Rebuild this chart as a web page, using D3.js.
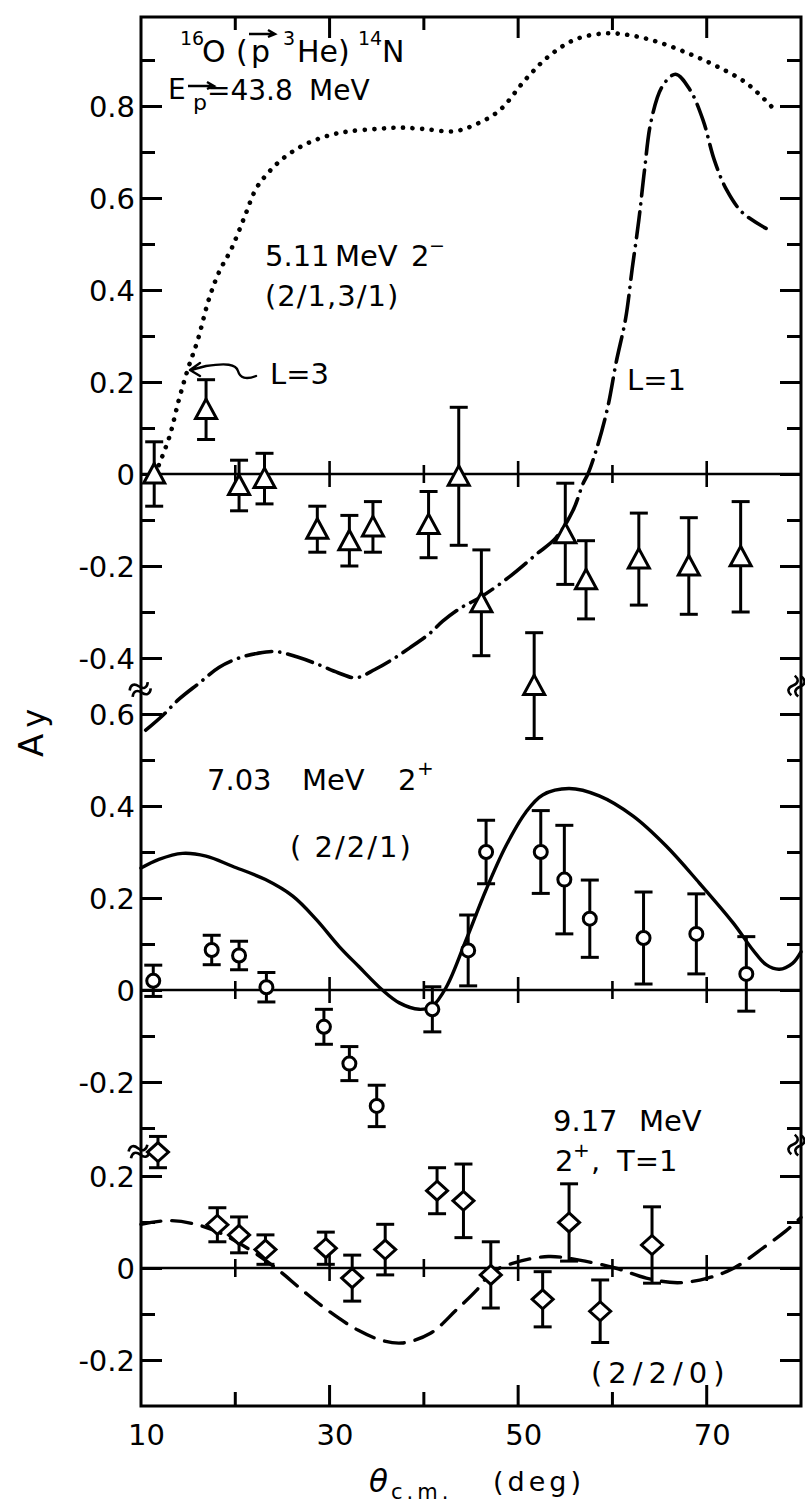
<!DOCTYPE html>
<html><head><meta charset="utf-8">
<script src="https://cdn.jsdelivr.net/npm/d3@7"></script>
<style>
body{margin:0;background:#fff}
svg{display:block}
text{font-family:"DejaVu Sans",sans-serif;fill:#000}
</style>
</head><body>
<script>
// ---------- data (theta c.m. in deg, Ay) ----------
// 5.11 MeV 2- : data [theta, Ay, error]
const pts511 = [
  [11.4, 0.0, 0.07], [16.9, 0.14, 0.065], [20.4, -0.025, 0.055], [23.1, -0.01, 0.055],
  [28.7, -0.12, 0.05], [32.1, -0.145, 0.055], [34.6, -0.115, 0.055], [40.5, -0.11, 0.072],
  [43.7, -0.005, 0.15], [46.1, -0.28, 0.115], [51.7, -0.46, 0.115], [55.0, -0.13, 0.11],
  [57.2, -0.23, 0.085], [62.8, -0.185, 0.1], [68.1, -0.2, 0.105], [73.6, -0.18, 0.12]
];
// L=3 curve (dotted)
const curveL3 = [
  [11.5, 0.0], [13, 0.08], [14, 0.16], [15, 0.23], [16, 0.29], [17.2, 0.38], [18.3, 0.44],
  [19.6, 0.49], [21, 0.56], [22.2, 0.62], [23.5, 0.655], [25, 0.685], [26.8, 0.71],
  [28.6, 0.727], [30.3, 0.738], [32.1, 0.745], [35, 0.75], [37.4, 0.753], [40, 0.75],
  [43.2, 0.745], [45.5, 0.76], [48, 0.79], [50.8, 0.858], [53.3, 0.909], [56.1, 0.945],
  [59.3, 0.958], [62.1, 0.953], [65, 0.938], [68.2, 0.913], [71, 0.887], [74.2, 0.85], [77, 0.796]
];
// L=1 curve (dash-dot)
const curveL1 = [
  [10.5, -0.557], [12.3, -0.525], [14, -0.49], [16.2, -0.454], [18.3, -0.42], [20.4, -0.4],
  [22.3, -0.39], [24.3, -0.386], [26.6, -0.398], [28.9, -0.415], [30.9, -0.432], [32.8, -0.443],
  [34.8, -0.425], [36.6, -0.404], [38.5, -0.378], [40.6, -0.347], [42, -0.32], [44, -0.29],
  [46, -0.268], [49.1, -0.223], [51.9, -0.175], [54, -0.139], [55.8, -0.08], [56.9, -0.02],
  [57.4, 0.0], [58.4, 0.06], [59.5, 0.145], [60.4, 0.243], [61.4, 0.338], [62.1, 0.447],
  [62.8, 0.552], [63.4, 0.66], [64.1, 0.767], [65.3, 0.843], [66.7, 0.869], [68.2, 0.836],
  [69.6, 0.77], [70.8, 0.683], [72.1, 0.618], [73.8, 0.568], [76.3, 0.534]
];
// 7.03 MeV 2+
const pts703 = [
  [11.3, 0.02, 0.034], [17.5, 0.087, 0.032], [20.4, 0.075, 0.031], [23.3, 0.006, 0.032],
  [29.4, -0.08, 0.038], [32.1, -0.16, 0.037], [35.0, -0.252, 0.045], [40.9, -0.042, 0.049],
  [44.7, 0.086, 0.077], [46.6, 0.3, 0.069], [52.4, 0.3, 0.09], [54.9, 0.24, 0.118],
  [57.6, 0.155, 0.084], [63.3, 0.113, 0.1], [68.9, 0.122, 0.087], [74.2, 0.035, 0.081]
];
const curve703 = [
  [10, 0.265], [11.9, 0.284], [14.4, 0.297], [16.9, 0.291], [19.7, 0.269], [23.2, 0.24],
  [26.1, 0.204], [28.6, 0.153], [31, 0.095], [33.1, 0.051], [35.6, 0.0], [37.4, -0.028],
  [39.5, -0.042], [40.9, -0.035], [42.4, 0.007], [44.5, 0.11], [46.6, 0.218], [48.7, 0.313],
  [50.8, 0.386], [52.6, 0.424], [55.4, 0.438], [58.6, 0.422], [62.2, 0.378], [65.7, 0.313],
  [69.2, 0.233], [72.8, 0.146], [74.9, 0.087], [76.3, 0.055], [77.7, 0.045], [79.1, 0.058], [80, 0.083]
];
// 9.17 MeV 2+, T=1
const pts917 = [
  [11.8, 0.252, 0.034], [18.1, 0.094, 0.037], [20.4, 0.072, 0.039], [23.2, 0.04, 0.032],
  [29.6, 0.043, 0.035], [32.4, -0.022, 0.05], [35.9, 0.04, 0.055], [41.4, 0.168, 0.05],
  [44.2, 0.146, 0.08], [47.1, -0.015, 0.072], [52.6, -0.068, 0.06], [55.4, 0.099, 0.084],
  [58.7, -0.094, 0.068], [64.2, 0.05, 0.083]
];
const curve917 = [
  [10, 0.095], [12.9, 0.103], [15.6, 0.096], [18.4, 0.076], [21.6, 0.039], [24.3, 0.0],
  [27.1, -0.048], [29.8, -0.092], [33, -0.135], [35.5, -0.157], [37.7, -0.163], [40.7, -0.142],
  [43.4, -0.092], [45.6, -0.048], [47.2, -0.01], [49.4, 0.01], [53.2, 0.025], [56.5, 0.017],
  [60.3, 0.0], [63.6, -0.022], [66.9, -0.032], [70.1, -0.022], [72.9, 0.0], [76.2, 0.047],
  [78.3, 0.079], [80, 0.11]
];
// ticks
const xTicks = [20, 30, 40, 50, 60, 70];
const xTickLabels = [10, 30, 50, 70];
const topTicks = [-0.4, -0.3, -0.2, -0.1, 0, 0.1, 0.2, 0.3, 0.4, 0.5, 0.6, 0.7, 0.8, 0.9];
const topLabels = [-0.4, -0.2, 0, 0.2, 0.4, 0.6, 0.8];
const midTicks = [-0.3, -0.2, -0.1, 0, 0.1, 0.2, 0.3, 0.4, 0.5, 0.6];
const midLabels = [-0.2, 0, 0.2, 0.4, 0.6];
const botTicks = [-0.2, -0.1, 0, 0.1, 0.2];
const botLabels = [-0.2, 0, 0.2];

// ---------- layout ----------
const W = 805, H = 1508;
const L = 141, R = 801, T = 17, B = 1406;
const svg = d3.select("body").append("svg").attr("width", W).attr("height", H);
svg.append("rect").attr("width", W).attr("height", H).attr("fill", "#fff");

const x = d3.scaleLinear().domain([10, 80]).range([L, R]);
const yTop = d3.scaleLinear().domain([-0.5, 1.0]).range([704, 14]);
const yMid = d3.scaleLinear().domain([-0.34, 0.63]).range([1146.4, 700.2]);
const yBot = d3.scaleLinear().domain([-0.3, 0.26]).range([B, 1148.4]);

const fmt = v => (Math.abs(v) < 1e-9 ? "0" : String(+v.toFixed(1)));
const isLab = (arr, v) => arr.some(a => Math.abs(a - v) < 1e-9);

// frame
svg.append("rect").attr("x", L).attr("y", T).attr("width", R - L).attr("height", B - T)
  .attr("fill", "none").attr("stroke", "#000").attr("stroke-width", 3);

// y axes per panel (left & right), using d3 axes
function yAxes(y, ticks, labels) {
  const minor = ticks.filter(v => !isLab(labels, v));
  const major = ticks.filter(v => isLab(labels, v));
  const gl = svg.append("g").attr("transform", `translate(${L},0)`);
  gl.call(d3.axisLeft(y).tickValues(major).tickSize(-21).tickPadding(6).tickFormat(fmt));
  gl.append("g").call(d3.axisLeft(y).tickValues(minor).tickSize(-14).tickFormat(""));
  const gr = svg.append("g").attr("transform", `translate(${R},0)`);
  gr.call(d3.axisRight(y).tickValues(major).tickSize(-21).tickFormat(""));
  gr.append("g").call(d3.axisRight(y).tickValues(minor).tickSize(-14).tickFormat(""));
  [gl, gr].forEach(g => {
    g.selectAll(".domain").remove();
    g.selectAll("line").attr("stroke", "#000").attr("stroke-width", 3);
  });
  gl.selectAll("text").attr("font-size", 29).attr("font-family", '"DejaVu Sans",sans-serif')
    .attr("fill", "#000").attr("dy", "0.36em");
}
yAxes(yTop, topTicks, topLabels);
yAxes(yMid, midTicks, midLabels);
yAxes(yBot, botTicks, botLabels);

// zero lines with crossing ticks
[yTop, yMid, yBot].forEach(y => {
  const y0 = y(0);
  svg.append("line").attr("x1", L).attr("x2", R).attr("y1", y0).attr("y2", y0)
    .attr("stroke", "#000").attr("stroke-width", 2.6);
  svg.append("g").selectAll("line").data(xTicks).join("line")
    .attr("x1", d => x(d)).attr("x2", d => x(d))
    .attr("y1", d => y0 - (isLab(xTickLabels, d) ? 13 : 9))
    .attr("y2", d => y0 + (isLab(xTickLabels, d) ? 13 : 9))
    .attr("stroke", "#000").attr("stroke-width", 2.6);
});

// top & bottom frame ticks
svg.append("g").selectAll("line").data(xTicks).join("line")
  .attr("x1", d => x(d)).attr("x2", d => x(d))
  .attr("y1", T).attr("y2", d => T + (isLab(xTickLabels, d) ? 21 : 13))
  .attr("stroke", "#000").attr("stroke-width", 3);
const gx = svg.append("g").attr("transform", `translate(0,${B})`);
gx.call(d3.axisBottom(x).tickValues(xTickLabels).tickSize(0).tickPadding(18).tickFormat(d3.format("d")));
gx.select(".domain").remove();
gx.selectAll("text").attr("font-size", 29).attr("font-family", '"DejaVu Sans",sans-serif')
  .attr("fill", "#000").attr("dx", 5);
svg.append("g").selectAll("line").data(xTicks).join("line")
  .attr("x1", d => x(d)).attr("x2", d => x(d))
  .attr("y1", B).attr("y2", d => B - (isLab(xTickLabels, d) ? 21 : 14))
  .attr("stroke", "#000").attr("stroke-width", 3);

// break marks
function brk(cx, cy, rot) {
  svg.append("path")
    .attr("d", "M-10,-3 c3,-5 7,-5 10,0 s7,5 10,0 M-10,4 c3,-5 7,-5 10,0 s7,5 10,0")
    .attr("transform", `translate(${cx},${cy}) rotate(${rot})`)
    .attr("fill", "none").attr("stroke", "#000").attr("stroke-width", 2.6);
}
brk(L - 1, 689, -25); brk(L - 2, 1151, -20);
brk(R - 5, 686, -80); brk(R - 5, 1145, -80);

// curves
function curve(data, y, dash, w) {
  svg.append("path").datum(data)
    .attr("d", d3.line().x(d => x(d[0])).y(d => y(d[1])).curve(d3.curveCatmullRom.alpha(0.5)))
    .attr("fill", "none").attr("stroke", "#000").attr("stroke-width", w)
    .attr("stroke-linecap", "round").attr("stroke-dasharray", dash);
}
curve(curveL3, yTop, "0.1 9.5", 4.6);
curve(curveL1, yTop, "26 8 0.1 8", 3.6);
curve(curve703, yMid, null, 3.4);
curve(curve917, yBot, "20 11", 3.4);

// points with error bars
const shapes = {
  tri: "M0,-10.5 L10.5,9 L-10.5,9 Z",
  dia: "M0,-9.5 L10.5,0 L0,9.5 L-10.5,0 Z"
};
function points(data, y, shape) {
  const g = svg.append("g").attr("stroke", "#000").attr("stroke-width", 3);
  g.selectAll("line.bar").data(data).join("line").attr("class", "bar")
    .attr("x1", d => x(d[0])).attr("x2", d => x(d[0]))
    .attr("y1", d => y(d[1] + d[2])).attr("y2", d => y(d[1] - d[2]));
  g.selectAll("line.capT").data(data).join("line").attr("class", "capT")
    .attr("x1", d => x(d[0]) - 9).attr("x2", d => x(d[0]) + 9)
    .attr("y1", d => y(d[1] + d[2])).attr("y2", d => y(d[1] + d[2]));
  g.selectAll("line.capB").data(data).join("line").attr("class", "capB")
    .attr("x1", d => x(d[0]) - 9).attr("x2", d => x(d[0]) + 9)
    .attr("y1", d => y(d[1] - d[2])).attr("y2", d => y(d[1] - d[2]));
  if (shape === "circle") {
    g.selectAll("circle").data(data).join("circle")
      .attr("cx", d => x(d[0])).attr("cy", d => y(d[1])).attr("r", 6.5).attr("fill", "#fff");
  } else {
    g.selectAll("path").data(data).join("path")
      .attr("d", shapes[shape]).attr("transform", d => `translate(${x(d[0])},${y(d[1])})`)
      .attr("fill", "#fff").attr("stroke-linejoin", "miter");
  }
}
points(pts511, yTop, "tri");
points(pts703, yMid, "circle");
points(pts917, yBot, "dia");

// ---------- text ----------
function txt(xp, yp, s, fs, extra) {
  const t = svg.append("text").attr("x", xp).attr("y", yp).attr("font-size", fs).text(s);
  if (extra) extra(t);
  return t;
}
function vecArrow(x1, x2, yy) {
  svg.append("path").attr("d", `M${x1},${yy} L${x2},${yy} M${x2 - 7},${yy - 4} L${x2},${yy} L${x2 - 7},${yy + 3}`)
    .attr("fill", "none").attr("stroke", "#000").attr("stroke-width", 2.4);
}
// title
txt(180, 45, "16", 19);
txt(202, 62, "O", 30);
txt(236, 62, "(", 30);
txt(251, 62, "p", 30);
vecArrow(249, 275, 34);
txt(283, 45, "3", 19);
txt(297, 62, "He)", 30);
txt(358, 45, "14", 19);
txt(382, 62, "N", 30);
// beam energy
txt(168, 99, "E", 28);
txt(193, 110, "p", 22);
vecArrow(188, 214, 86);
txt(207, 100, "=43.8", 28);
txt(309, 100, "MeV", 28);

const AF = 29; // annotation font size
// 5.11 MeV label
txt(265, 266, "5.11", AF);
txt(335, 266, "MeV", AF);
txt(411, 266, "2", AF);
txt(429, 252, "\u2212", 19);
txt(265, 306, "(2/1,3/1)", AF, t => t.attr("letter-spacing", 1));
txt(270, 384, "L=3", AF);
txt(627, 390, "L=1", AF);
// curly arrow for L=3
svg.append("path")
  .attr("d", "M256,376 C246,380 240,378 238,371 C236,364 226,363 206,366 L191,370 M200,363 L190,370 L200,376")
  .attr("fill", "none").attr("stroke", "#000").attr("stroke-width", 2.4)
  .attr("stroke-linejoin", "round").attr("stroke-linecap", "round");

// 7.03 MeV label
txt(207, 790, "7.03", AF);
txt(302, 790, "MeV", AF);
txt(398, 790, "2", AF);
txt(417, 775, "+", 20);
txt(290, 857, "( 2/2/1)", AF, t => t.attr("letter-spacing", 2));

// 9.17 MeV label
txt(553, 1131, "9.17", AF);
txt(639, 1131, "MeV", AF);
txt(555, 1171, "2", AF);
txt(573, 1157, "+", 20);
txt(591, 1171, ",", AF);
txt(617, 1171, "T=1", AF);
txt(591, 1383, "(2/2/0)", AF, t => t.attr("letter-spacing", 6));

// y axis title
const ay = svg.append("text").attr("transform", "translate(43,733) rotate(-90)")
  .attr("text-anchor", "middle");
ay.append("tspan").attr("font-size", 34).text("A");
ay.append("tspan").attr("font-size", 32).attr("dx", 6).attr("dy", 2).text("y");

// x axis title
const xt = svg.append("text").attr("x", 369).attr("y", 1492);
xt.append("tspan").attr("font-size", 31).attr("font-style", "italic").text("\u03B8");
xt.append("tspan").attr("font-size", 21).attr("dy", 7).attr("dx", 3).attr("letter-spacing", 4).text("c.m.");
txt(493, 1491, "(deg)", 27, t => t.attr("letter-spacing", 4));
</script>
</body></html>
